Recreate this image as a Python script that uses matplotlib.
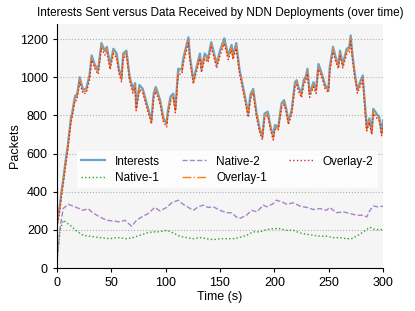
import matplotlib
matplotlib.use("Agg")
import matplotlib.pyplot as plt

plt.rcParams['font.family'] = ['Liberation Sans', 'DejaVu Sans']

# Interests / overlay series (shared time base, seconds)
t_main = [0, 1, 2, 3, 4, 5, 6, 7, 8, 9,
          10, 11, 12, 13, 14, 15, 16, 17, 18, 19,
          20, 21, 24, 27, 30, 32, 35, 38, 41, 44,
          46, 49, 52, 55, 57, 59.5, 61, 64, 67, 70,
          72, 73, 76, 79, 82.5, 87, 89, 91, 95, 98,
          101, 102, 104.6, 107, 109, 111.6, 115, 116, 118, 121,
          122.4, 125.5, 128.5, 131.6, 133, 136, 139, 142, 145, 147,
          150, 154, 157.6, 160.7, 162, 165, 168, 173, 176, 178,
          180.6, 183.7, 186.8, 189, 191, 194, 196.6, 199, 200.6, 203.6,
          206.7, 209, 211, 213, 216, 219, 220.6, 222, 225, 227,
          229, 230.5, 232.5, 236, 238.4, 240.6, 243.7, 246.7, 249.8, 251,
          254, 256.7, 259, 260.4, 263, 266.6, 269, 270.2, 272, 274,
          276.4, 278.9, 281.3, 283.5, 285, 287.4, 289.6, 291, 294, 296.6,
          298.7, 300]

interests = [230, 265, 300, 340, 390, 430, 470, 515, 560, 600,
             640, 690, 740, 790, 810, 845, 880, 905, 900, 925,
             960, 1000, 935, 940, 1010, 1115, 1065, 1040, 1180, 1140,
             1160, 1065, 1150, 1125, 1045, 1000, 1125, 1140, 1000, 940,
             970, 845, 960, 940, 865, 775, 915, 950, 880, 785,
             760, 820, 900, 915, 835, 1045, 1040, 1090, 1140, 1210,
             1110, 985, 1055, 1125, 1045, 1125, 1100, 1185, 1115, 1070,
             1140, 1205, 1115, 1170, 1115, 1180, 1040, 900, 810, 910,
             940, 810, 725, 690, 810, 820, 740, 690, 750, 740,
             865, 880, 835, 770, 830, 975, 985, 950, 915, 985,
             1005, 1045, 915, 975, 935, 1070, 1020, 960, 940, 1055,
             1160, 1100, 1065, 1140, 1070, 1150, 1160, 1220, 1110, 1020,
             935, 975, 1010, 845, 735, 785, 715, 835, 810, 790,
             710, 775]

overlay1 = [225, 255, 290, 330, 378, 420, 460, 505, 548, 590,
            630, 678, 728, 778, 800, 833, 868, 895, 890, 913,
            948, 988, 925, 928, 998, 1102, 1055, 1028, 1166, 1128,
            1146, 1052, 1137, 1113, 1034, 988, 1112, 1127, 990, 928,
            958, 835, 947, 929, 855, 765, 902, 938, 869, 775,
            750, 808, 887, 903, 825, 1031, 1028, 1077, 1127, 1194,
            1099, 975, 1042, 1112, 1035, 1111, 1089, 1171, 1104, 1059,
            1126, 1190, 1104, 1156, 1104, 1166, 1030, 889, 800, 897,
            928, 800, 716, 681, 797, 809, 731, 681, 739, 731,
            852, 868, 825, 761, 818, 962, 973, 940, 904, 972,
            993, 1032, 905, 962, 925, 1056, 1009, 950, 930, 1041,
            1146, 1089, 1055, 1126, 1060, 1136, 1147, 1204, 1100, 1010,
            926, 963, 998, 836, 727, 774, 707, 822, 799, 780,
            702, 764]

overlay2 = [215, 240, 275, 315, 362, 405, 445, 490, 535, 575,
            615, 665, 715, 765, 788, 820, 856, 882, 878, 900,
            935, 975, 915, 917, 985, 1090, 1044, 1016, 1152, 1117,
            1132, 1040, 1124, 1102, 1022, 977, 1099, 1115, 980, 917,
            946, 826, 934, 918, 845, 755, 889, 926, 858, 765,
            740, 796, 875, 892, 815, 1016, 1017, 1065, 1114, 1180,
            1088, 965, 1030, 1099, 1025, 1098, 1078, 1157, 1093, 1048,
            1112, 1176, 1093, 1142, 1093, 1152, 1020, 878, 790, 885,
            916, 790, 707, 672, 785, 798, 722, 672, 728, 722,
            840, 856, 815, 752, 806, 950, 962, 930, 893, 960,
            981, 1019, 895, 950, 915, 1043, 998, 940, 920, 1028,
            1132, 1078, 1045, 1112, 1050, 1123, 1134, 1190, 1090, 1000,
            917, 951, 986, 827, 719, 763, 699, 810, 788, 770,
            694, 753]

# Native deployments
t_native2 = [0.3, 2.8, 5.8, 10.4, 18, 24, 28.8, 33, 39.5, 45.7,
             51.8, 58, 62.6, 68.7, 73.3, 78, 84, 90, 94.8, 101,
             105.5, 111.6, 116, 121, 125.5, 130, 134.7, 139, 144, 150,
             156, 160.7, 165, 168, 174.5, 179, 184, 190, 193, 199,
             202, 207, 211.4, 217.6, 223.6, 230, 236, 242, 248, 251,
             257, 263.5, 269.6, 275.7, 281.9, 285, 288, 291, 295.6, 300]
native2 = [40, 205, 312, 335, 318, 303, 312, 290, 268, 251,
           247, 242, 251, 219, 251, 268, 286, 318, 300, 318,
           342, 356, 335, 318, 303, 321, 330, 318, 321, 303,
           290, 290, 268, 260, 277, 303, 295, 330, 321, 338,
           356, 347, 335, 342, 325, 318, 307, 312, 303, 318,
           290, 295, 286, 277, 277, 268, 303, 325, 321, 325]

t_native1 = [0.3, 3, 6, 8.9, 13.5, 18, 24, 30, 39.5, 48.8,
             55, 64, 70, 76.4, 82.6, 88.7, 94.8, 101, 107, 113,
             119, 125.5, 131.6, 137.7, 144, 150, 156, 162, 168, 174.5,
             180.6, 186.8, 193, 199, 205, 211.4, 217.6, 223.6, 230, 236,
             242, 248, 254, 260, 266.6, 271, 275.7, 281.9, 288, 292.6,
             300]
native1 = [49, 200, 251, 237, 219, 195, 172, 167, 160, 154,
           160, 154, 160, 172, 184, 190, 190, 198, 184, 167,
           160, 154, 160, 154, 149, 154, 154, 154, 160, 172,
           190, 190, 202, 207, 207, 198, 198, 184, 177, 172,
           167, 167, 160, 160, 154, 154, 167, 190, 214, 202,
           202]

fig = plt.figure(figsize=(4.15, 3.11), dpi=100)
ax = fig.add_axes([0.137, 0.138, 0.786, 0.785])
ax.set_facecolor('#f5f5f5')

ax.plot(t_main, interests, color='#1f77b4', lw=1.6, alpha=0.65, label='Interests')
ax.plot(t_native1, native1, color='#2ca02c', lw=1, ls=':', label='Native-1')
ax.plot(t_native2, native2, color='#9467bd', lw=1, ls='--', alpha=0.8, label='Native-2')
ax.plot(t_main, overlay1, color='#ff7f0e', lw=1, ls='-.', label='Overlay-1')
ax.plot(t_main, overlay2, color='#d62728', lw=1, ls=':', label='Overlay-2')

ax.set_xlim(0, 300)
ax.set_ylim(0, 1280)
ax.set_xticks([0, 50, 100, 150, 200, 250, 300])
ax.set_yticks([0, 200, 400, 600, 800, 1000, 1200])
ax.grid(axis='y', color='#b0b0b0', ls=':', lw=0.8)
ax.spines['top'].set_visible(False)
ax.spines['right'].set_visible(False)
ax.tick_params(labelsize=9, length=3)

ax.set_title('Interests Sent versus Data Received by NDN Deployments (over time)', fontsize=8.5)
ax.set_xlabel('Time (s)', fontsize=9, labelpad=1.5)
ax.set_ylabel('Packets', fontsize=9, labelpad=-0.5)

leg = ax.legend(ncol=3, loc='center', bbox_to_anchor=(0.523, 0.403), fontsize=8.5,
                frameon=True, fancybox=False, edgecolor='none', framealpha=0.9,
                handlelength=2.0, handletextpad=0.85, columnspacing=1.9,
                borderpad=0.35, labelspacing=0.35)

fig.savefig('out.png', dpi=100)
